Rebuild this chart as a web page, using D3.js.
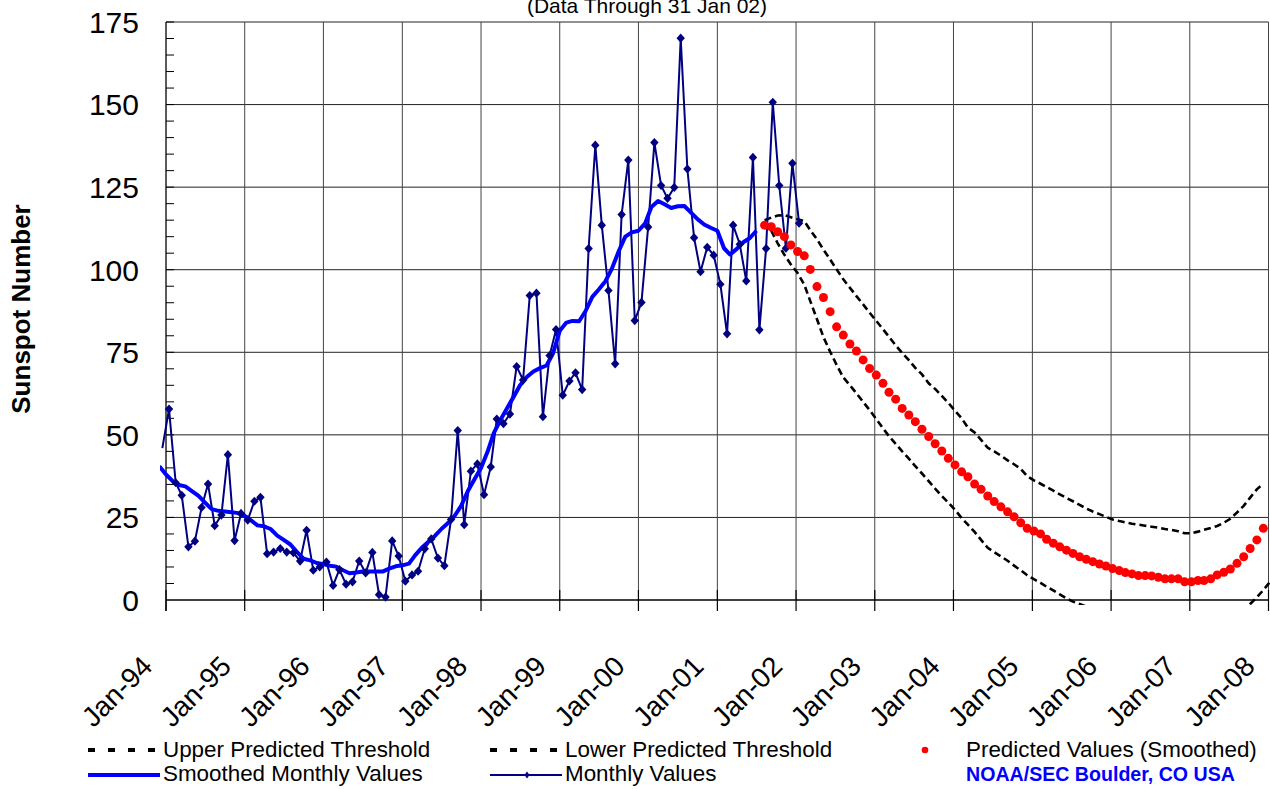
<!DOCTYPE html>
<html>
<head>
<meta charset="utf-8">
<script src="https://cdn.jsdelivr.net/npm/d3@7"></script>
<style>
  html, body { margin: 0; padding: 0; background: #fff; }
  svg { display: block; font-family: "Liberation Sans", Arial, sans-serif; }
</style>
</head>
<body>
<svg id="chart" width="1270" height="789"></svg>
<script>
// ---------------- DATA ----------------
const titleText = "(Data Through 31 Jan 02)";
const yAxisTitle = "Sunspot Number";
const yTicks = [0, 25, 50, 75, 100, 125, 150, 175];
const xTickLabels = ["Jan-94","Jan-95","Jan-96","Jan-97","Jan-98","Jan-99","Jan-00",
                     "Jan-01","Jan-02","Jan-03","Jan-04","Jan-05","Jan-06","Jan-07","Jan-08"];
const xTickYears = [1994,1995,1996,1997,1998,1999,2000,2001,2002,2003,2004,2005,2006,2007,2008];

// Monthly values, starting Dec 1993
const monthlyStart = [1993, 11];
const monthlyValues = [
  46,
  57.8, 35.5, 31.7, 16.1, 17.8, 28.0, 35.1, 22.5, 25.7, 44.0, 18.0, 26.2,
  24.2, 29.9, 31.1, 14.0, 14.5, 15.6, 14.5, 14.3, 11.8, 21.1, 9.0, 10.0,
  11.5, 4.4, 9.2, 4.8, 5.5, 11.8, 8.2, 14.4, 1.6, 0.9, 17.9, 13.3,
  5.7, 7.6, 8.7, 15.5, 18.5, 12.7, 10.4, 24.4, 51.3, 22.8, 39.0, 41.2,
  31.9, 40.3, 54.8, 53.4, 56.3, 70.7, 66.6, 92.2, 92.9, 55.5, 74.0, 81.9,
  62.0, 66.3, 68.8, 63.7, 106.4, 137.7, 113.5, 93.7, 71.5, 116.7, 133.2, 84.6,
  90.1, 112.9, 138.5, 125.5, 121.6, 124.9, 170.1, 130.5, 109.7, 99.4, 106.8, 104.4,
  95.6, 80.6, 113.5, 107.7, 96.6, 134.0, 81.8, 106.4, 150.7, 125.5, 106.5, 132.2,
  114.1
];

// Smoothed monthly values, starting Dec 1993
const smoothedStart = [1993, 11];
const smoothedValues = [
  40.5,
  38, 36, 34.8, 34.4, 33, 31.5, 29.5, 27.5, 27, 26.8, 26.6, 26.3,
  25.5, 24, 22.6, 22.3, 21.5, 19.5, 18.2, 16.8, 14.5, 12.5, 12, 11.2,
  10.8, 10.4, 10.1, 9, 8.1, 8.3, 8.6, 8.6, 8.6, 8.6, 9.5, 10.2,
  10.5, 11, 13.5, 15.8, 17.6, 19.4, 21.5, 23.3, 25.5, 28.5, 33, 36.5,
  40, 45, 50.5, 54.5, 58, 61.5, 65, 67.5, 69.2, 70.2, 71, 74.7,
  81.5, 84, 84.5, 84.4, 87.5, 91.8, 94, 96.5, 100.5, 105.5, 110, 111.3,
  111.8, 114, 119, 120.8, 119.8, 118.7, 119.2, 119.3, 117.3, 115.3, 113.7, 112.7,
  111.8, 106.5, 104.6, 106.3, 108.3, 109.6, 111.8
];

// Predictions, starting Aug 2001
const predStart = [2001, 7];
const predictedValues = [
  113.5, 113, 111.5, 110, 107.5,
  105.5, 104.2, 100.1, 94.9, 91.6, 87.3, 82.7, 80.2, 77.5, 75.4, 72.7, 70.1,
  68.1, 65.6, 62.9, 60.8, 58, 56, 54, 51.7, 49.5, 47.3, 45.1, 42.9, 40.9,
  38.8, 37.3, 35.1, 33.5, 31.5, 29.8, 28.2, 26.7, 25.2, 23.4, 21.7, 20.9,
  20, 18.4, 17.2, 16.1, 15.1, 14.1, 13.1, 12.3, 11.6, 10.9, 10.3, 9.5,
  8.9, 8.3, 7.9, 7.4, 7.4, 7.3, 6.9, 6.4, 6.4, 6.4, 5.5, 5.5,
  5.9, 5.9, 6.4, 7.6, 8.4, 9.4, 11.1, 13.1, 15.6, 18.2, 21.7
];
const upperValues = [
  115, 115.8, 116.4, 116.5, 115.9,
  115.3, 114.7, 112, 109.2, 106.1, 103.1, 100.1, 97.1, 94.5, 92, 89.5, 87,
  84.5, 82, 79.7, 77.1, 74.8, 72.6, 70.3, 68.3, 65.6, 63.9, 61.8, 59.7, 57.3,
  55, 52.2, 50.7, 48.5, 46.1, 45, 43.7, 42.3, 41.1, 39.7, 37.5, 36.2,
  35.2, 34.2, 33.1, 32, 30.9, 29.9, 28.8, 27.7, 26.8, 26, 25.2, 24.4,
  23.9, 23.5, 23.1, 22.8, 22.5, 22.2, 21.9, 21.5, 21.2, 20.8, 20.2, 20.2,
  20.7, 21.3, 21.8, 22.4, 23.4, 24.6, 26.5, 28.5, 31, 33.5, 35.2
];
const lowerValues = [
  114.5, 111.8, 108, 104.5, 101.6,
  99, 95.5, 90.5, 85, 79.6, 75.2, 71.2, 67.4, 65, 62.6, 60, 57.5,
  54.8, 52, 49.6, 47.3, 45, 42.8, 40.5, 38.3, 36, 33.7, 31.5, 29.5, 27.3,
  24.8, 22.8, 20.6, 18.2, 15.8, 14.5, 13.2, 11.9, 10.4, 9, 7.5, 6.3,
  5.2, 4, 2.9, 1.7, 0.5, -0.5, -1.2, -2, -3.1, -3.6, -4.2, -4.6,
  -5.4, -6.1, -6.9, -7.3, -8, -7.7, -7.6, -8.1, -8.7, -8.4, -8, -9.2,
  -9.2, -8.9, -9.5, -9, -7.2, -6.6, -5.2, -3.5, -1.2, 0.8, 3, 5.5
];

const legendItems = [
  {label: "Upper Predicted Threshold", kind: "dash"},
  {label: "Lower Predicted Threshold", kind: "dash"},
  {label: "Predicted Values (Smoothed)", kind: "dot"},
  {label: "Smoothed Monthly Values", kind: "smooth"},
  {label: "Monthly Values", kind: "monthly"}
];
const creditText = "NOAA/SEC Boulder, CO USA";

// ---------------- CHART ----------------
const svg = d3.select("#chart");

const x = d3.scaleTime()
  .domain([new Date(1994, 0, 1), new Date(2008, 0, 1)])
  .range([166, 1268.5]);
const y = d3.scaleLinear().domain([0, 175]).range([600, 22]);

const series = (start, vals, day) => vals.map((v, i) => ({date: new Date(start[0], start[1] + i, day), v}));
const monthly = series(monthlyStart, monthlyValues, 15);
const smoothed = series(smoothedStart, smoothedValues, 1);
const predicted = series(predStart, predictedValues, 8);
const upper = series(predStart, upperValues, 8);
const lower = series(predStart, lowerValues, 8);

// Title (partially off the top edge, as in the original)
svg.append("text")
  .attr("x", 647).attr("y", 12.5)
  .attr("text-anchor", "middle")
  .attr("font-size", 21)
  .attr("fill", "#000")
  .text(titleText);

// Grid
const g = svg.append("g");
g.selectAll("line.hgrid").data(yTicks.filter(d => d > 0)).join("line")
  .attr("x1", x.range()[0]).attr("x2", x.range()[1])
  .attr("y1", d => y(d)).attr("y2", d => y(d))
  .attr("stroke", "#222").attr("stroke-width", 1);
g.selectAll("line.vgrid").data(xTickYears.slice(1)).join("line")
  .attr("x1", d => x(new Date(d, 0, 1))).attr("x2", d => x(new Date(d, 0, 1)))
  .attr("y1", y(175)).attr("y2", y(0))
  .attr("stroke", "#444").attr("stroke-width", 1);

// Y minor ticks
g.selectAll("line.minor").data(d3.range(5, 176, 5)).join("line")
  .attr("x1", x.range()[0]).attr("x2", x.range()[0] + 8)
  .attr("y1", d => y(d)).attr("y2", d => y(d))
  .attr("stroke", "#000").attr("stroke-width", 1);

// Axes lines
g.append("line").attr("x1", x.range()[0]).attr("x2", x.range()[0])
  .attr("y1", y(175)).attr("y2", y(0) + 11).attr("stroke", "#000").attr("stroke-width", 1.3);
g.append("line").attr("x1", x.range()[0]).attr("x2", x.range()[1])
  .attr("y1", y(0)).attr("y2", y(0)).attr("stroke", "#000").attr("stroke-width", 1.3);
g.selectAll("line.xtick").data(xTickYears).join("line")
  .attr("x1", d => x(new Date(d, 0, 1))).attr("x2", d => x(new Date(d, 0, 1)))
  .attr("y1", y(0) - 10).attr("y2", y(0) + 11)
  .attr("stroke", "#000").attr("stroke-width", 1.2);

// Y labels
g.selectAll("text.ylab").data(yTicks).join("text")
  .attr("x", 139).attr("y", d => y(d))
  .attr("dy", "0.36em")
  .attr("text-anchor", "end")
  .attr("font-size", 30)
  .text(d => d);

// X labels
g.selectAll("text.xlab").data(xTickYears).join("text")
  .attr("text-anchor", "end")
  .attr("font-size", 28)
  .attr("transform", d => `translate(${x(new Date(d, 0, 1)) - 12},668) rotate(-45)`)
  .text((d, i) => xTickLabels[i]);

// Y title
svg.append("text")
  .attr("transform", "translate(30,309) rotate(-90)")
  .attr("text-anchor", "middle")
  .attr("font-size", 26)
  .attr("font-weight", "bold")
  .text(yAxisTitle);

// Clip
svg.append("defs").append("clipPath").attr("id", "plotclip")
  .append("rect").attr("x", 160).attr("y", 0).attr("width", 1110).attr("height", 605);
const plot = svg.append("g").attr("clip-path", "url(#plotclip)");

const line = d3.line().x(d => x(d.date)).y(d => y(d.v));

plot.append("path").datum(upper).attr("d", line)
  .attr("fill", "none").attr("stroke", "#000").attr("stroke-width", 2.6)
  .attr("stroke-dasharray", "7,4");
plot.append("path").datum(lower).attr("d", line)
  .attr("fill", "none").attr("stroke", "#000").attr("stroke-width", 2.6)
  .attr("stroke-dasharray", "7,4");

plot.append("path").datum(monthly).attr("d", line)
  .attr("fill", "none").attr("stroke", "#000080").attr("stroke-width", 2);
plot.append("path").datum(smoothed).attr("d", line)
  .attr("fill", "none").attr("stroke", "#0000FF").attr("stroke-width", 4)
  .attr("stroke-linejoin", "round");

const diamond = "M0,-4.6L4.2,0L0,4.6L-4.2,0Z";
plot.selectAll("path.mk").data(monthly.filter(d => d.date >= new Date(1994, 0, 1))).join("path")
  .attr("d", diamond)
  .attr("transform", d => `translate(${x(d.date)},${y(d.v)})`)
  .attr("fill", "#000080");

plot.selectAll("circle.pred").data(predicted).join("circle")
  .attr("cx", d => x(d.date)).attr("cy", d => y(d.v)).attr("r", 4.5)
  .attr("fill", "#FF0000");

// Legend
const lg = svg.append("g").attr("font-size", 22.4);
const legendPos = [
  {sx: 88, tx: 163, cy: 750, by: 757},
  {sx: 490, tx: 565, cy: 750, by: 757},
  {sx: 925, tx: 966, cy: 750, by: 757},
  {sx: 88, tx: 163, cy: 775, by: 781},
  {sx: 490, tx: 565, cy: 775, by: 781}
];
legendItems.forEach((it, i) => {
  const p = legendPos[i];
  if (it.kind === "dash") {
    lg.append("line").attr("x1", p.sx).attr("x2", p.sx + 72).attr("y1", p.cy).attr("y2", p.cy)
      .attr("stroke", "#000").attr("stroke-width", 4).attr("stroke-dasharray", "7,13");
  } else if (it.kind === "dot") {
    lg.append("circle").attr("cx", p.sx).attr("cy", p.cy).attr("r", 3.3).attr("fill", "#FF0000");
  } else if (it.kind === "smooth") {
    lg.append("line").attr("x1", p.sx).attr("x2", p.sx + 72).attr("y1", p.cy).attr("y2", p.cy)
      .attr("stroke", "#0000FF").attr("stroke-width", 4);
  } else {
    lg.append("line").attr("x1", p.sx).attr("x2", p.sx + 72).attr("y1", p.cy).attr("y2", p.cy)
      .attr("stroke", "#000080").attr("stroke-width", 2);
    lg.append("path").attr("d", "M0,-3.5L2.5,0L0,3.5L-2.5,0Z")
      .attr("transform", `translate(${p.sx + 37},${p.cy})`).attr("fill", "#000080");
  }
  lg.append("text").attr("x", p.tx).attr("y", p.by).text(it.label);
});
svg.append("text").attr("x", 966).attr("y", 781)
  .attr("font-size", 19.6).attr("font-weight", "bold").attr("fill", "#0000FF")
  .text(creditText);
</script>
</body>
</html>
